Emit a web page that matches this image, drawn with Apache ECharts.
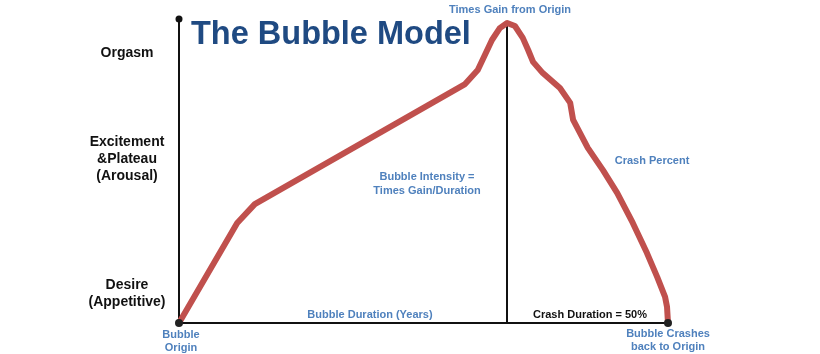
<!DOCTYPE html>
<html>
<head>
<meta charset="utf-8">
<script src="https://cdn.jsdelivr.net/npm/echarts@6/dist/echarts.min.js"></script>
<style>
  html, body { margin: 0; padding: 0; background: #fff; }
  #chart { width: 820px; height: 354px; }
</style>
</head>
<body>
<div id="chart"></div>
<script>
// curve of the bubble, x = share of the time axis, y = level
const curveX = [0, 11.9, 15.5, 58.5, 61.1, 64.0, 65.6, 67.1, 68.7, 70.3, 71.4, 72.4, 74.4, 77.9, 80.0, 80.6, 83.6, 86.7, 89.6, 92.8, 95.7, 97.8, 99.4, 99.8, 100]
const curveY = [0, 32.9, 39.1, 78.6, 83.2, 93.1, 97.0, 98.7, 97.7, 93.8, 89.8, 85.9, 82.2, 77.3, 72.4, 66.8, 57.6, 50.3, 42.8, 32.9, 23.0, 15.1, 8.6, 5.3, 0]
const peakX = 67.1
const peakY = 98.7

// stages shown on the y axis
const stageValues = [9.7, 53.9, 88.8]
const stageLabels = ['Desire\n(Appetitive)', 'Excitement\n&Plateau\n(Arousal)', 'Orgasm']

const blue = '#4f81bd'
const chart = echarts.init(document.getElementById('chart'))

let curveData = []
for (let i = 0; i < curveX.length; i++) {
  let item = { value: [curveX[i], curveY[i]] }
  if (i === 0 || i === curveX.length - 1) {
    item.symbol = 'circle'
    item.symbolSize = 8
  }
  curveData.push(item)
}

const txt = (text, x, y, opts) => ({
  type: 'text', x: x, y: y, z: 10,
  style: Object.assign({
    text: text, fill: blue, align: 'center', verticalAlign: 'middle',
    font: 'bold 11px "Liberation Sans", Arial, sans-serif', lineHeight: 13
  }, opts || {})
})

const option = {
  animation: false,
  grid: { left: 179, right: 152, top: 19, bottom: 31 },
  xAxis: {
    type: 'value', min: 0, max: 100,
    axisLine: { show: true, lineStyle: { color: '#111', width: 2 } },
    axisTick: { show: false },
    axisLabel: { show: false },
    splitLine: { show: false }
  },
  yAxis: {
    type: 'value', min: 0, max: 100,
    axisLine: {
      show: true, symbol: ['none', 'circle'], symbolSize: [7, 7],
      lineStyle: { color: '#111', width: 2 }
    },
    axisTick: { show: false },
    splitLine: { show: false },
    axisLabel: {
      show: true,
      customValues: stageValues,
      formatter: function (v) {
        let i = stageValues.indexOf(v)
        return i >= 0 ? stageLabels[i] : ''
      },
      align: 'center',
      margin: 52,
      color: '#111',
      fontWeight: 'bold',
      fontSize: 14,
      lineHeight: 17,
      fontFamily: '"Liberation Sans", Arial, sans-serif'
    }
  },
  series: [
    {
      type: 'line',
      data: curveData,
      symbol: 'none',
      lineStyle: { color: '#c0504d', width: 6, join: 'round', cap: 'round' },
      itemStyle: { color: '#222' },
      z: 3,
      markLine: {
        silent: true,
        symbol: 'none',
        label: { show: false },
        lineStyle: { color: '#111', width: 2, type: 'solid' },
        data: [[{ coord: [peakX, 0] }, { coord: [peakX, peakY] }]],
        z: 2
      }
    }
  ],
  graphic: [
    txt('The Bubble Model', 191, 35, { align: 'left', fill: '#1f4a82', font: 'bold 32.5px "Liberation Sans", Arial, sans-serif' }),
    txt('Times Gain from Origin', 510, 10),
    txt('Bubble Intensity =\nTimes Gain/Duration', 427, 184, { lineHeight: 14 }),
    txt('Crash Percent', 652, 161),
    txt('Bubble Duration (Years)', 370, 315),
    txt('Bubble\nOrigin', 181, 341),
    txt('Bubble Crashes\nback to Origin', 668, 340),
    txt('Crash Duration = 50%', 590, 315, { fill: '#111' })
  ]
}
chart.setOption(option)
</script>
</body>
</html>
